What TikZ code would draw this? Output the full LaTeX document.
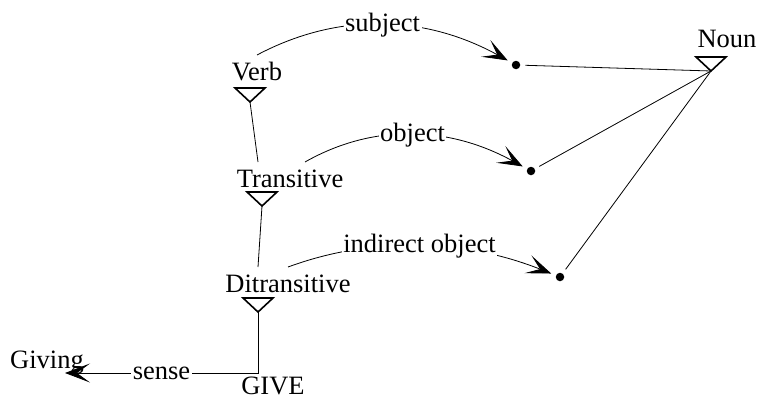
\documentclass[tikz,border=0pt]{standalone}
\usepackage{fontspec}
\setmainfont{Liberation Serif}
\usetikzlibrary{arrows.meta}
\tikzset{
  txt/.style={font=\fontsize{26.5}{30}\selectfont},
  word/.style={txt, anchor=base, inner sep=0pt},
  rel/.style={line width=0.8pt, -{Stealth[length=25pt,width=19pt,inset=13pt]}},
  link/.style={line width=0.8pt},
  isa/.style={line width=1.6pt, line join=miter},
  dot/.style={circle, fill, inner sep=0pt, minimum size=8.5pt},
  arclbl/.style={txt, fill=white, inner sep=1.5pt},
  isatri/.pic={\draw[isa] (-15,-14) -- (15,-14) -- (0,0) -- cycle;}
}
\begin{document}
\begin{tikzpicture}[x=1pt,y=-1pt]
\useasboundingbox (0,0) rectangle (759,399);

% word nodes
\node[word] (verb)    at (257,80)  {Verb};
\node[word] (trans)   at (290,187) {Transitive};
\node[word] (ditrans) at (288,292) {Ditransitive};
\node[word] (give)    at (273,394) {GIVE};
\node[word] (giving)  at (47,368)  {Giving};
\node[word] (noun)    at (727,47)  {Noun};

% isa triangles (apex points)
\coordinate (vtip) at (250,102);
\coordinate (ttip) at (262,206);
\coordinate (dtip) at (258,312);
\coordinate (ntip) at (711,71);
\pic at (vtip) {isatri};
\pic at (ttip) {isatri};
\pic at (dtip) {isatri};
\pic at (ntip) {isatri};

% isa links
\coordinate (tin) at (258,162);
\coordinate (din) at (258,267);
\draw[link] (vtip) -- (tin);
\draw[link] (ttip) -- (din);

% argument dots
\node[dot] (d1) at (516,65)  {};
\node[dot] (d2) at (531,171) {};
\node[dot] (d3) at (560,277) {};

% dots to Noun
\draw[link, shorten <=5pt] (d1) -- (ntip);
\draw[link, shorten <=5pt] (d2) -- (ntip);
\draw[link, shorten <=5pt] (d3) -- (ntip);

% relation arcs
\coordinate (s1) at (257,55);
\coordinate (s2) at (305,162);
\coordinate (s3) at (288,267);
\draw[rel, shorten >=5pt] (s1) .. controls (338.7,11.7) and (425,15) .. (d1)
  node[pos=.5, arclbl] {subject};
\draw[rel, shorten >=5pt] (s2) .. controls (373.7,123) and (449,126) .. (d2)
  node[pos=.5, arclbl] {object};
\draw[rel, shorten >=5pt] (s3) .. controls (373.3,235.7) and (464,239) .. (d3)
  node[pos=.5, arclbl] {indirect object};

% sense link
\coordinate (gcorner) at (258,373);
\coordinate (gend) at (65,373);
\draw[rel] (dtip) -- (gcorner) -- node[arclbl] {sense} (gend);
\end{tikzpicture}
\end{document}
